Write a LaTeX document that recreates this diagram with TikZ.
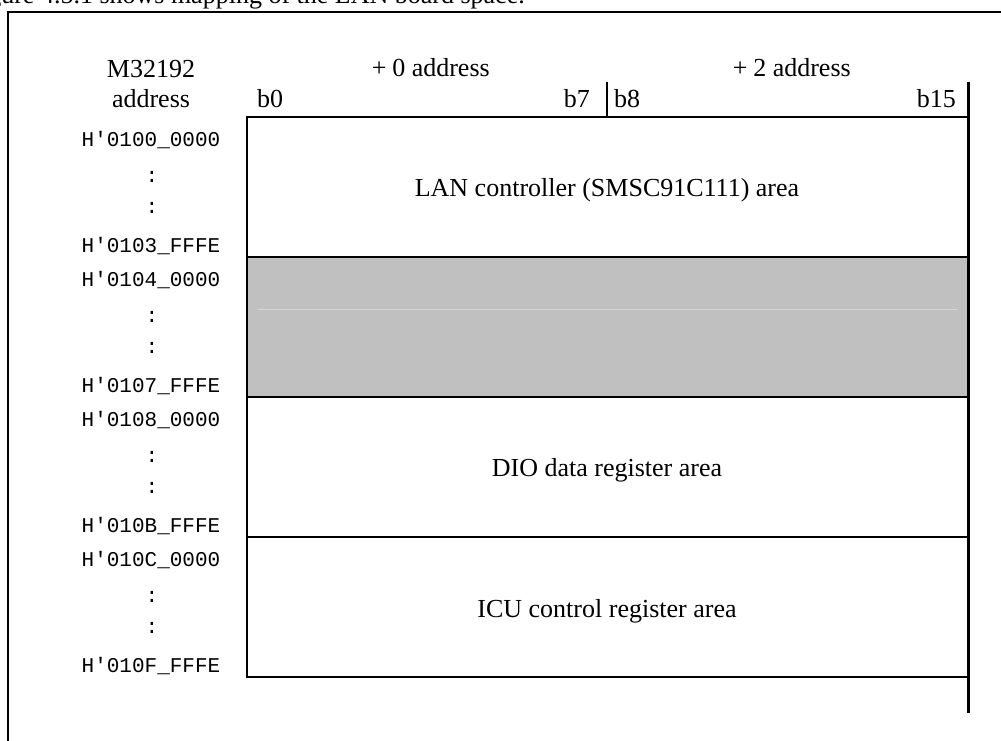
\documentclass[tikz,border=0pt]{standalone}
\usepackage{fontspec}
\setmainfont{Liberation Serif}
\setmonofont{Liberation Mono}
\usetikzlibrary{positioning}
\definecolor{areagray}{RGB}{192,192,192}
\definecolor{seamgray}{RGB}{214,214,214}
\newcommand{\wideplus}{\makebox[1em][c]{+}}
\tikzset{
  % frame and map lines
  frameline/.style = {line width=2pt, draw=black},
  mapline/.style   = {line width=2pt, draw=black},
  edgeline/.style  = {line width=3pt, draw=black},
  bitline/.style   = {line width=1.6pt, draw=black},
  % labels
  hdr/.style       = {font=\fontsize{26}{28}\selectfont, inner sep=0pt, anchor=base},
  arealab/.style   = {font=\fontsize{26}{28}\selectfont, inner sep=0pt, anchor=base},
  addr/.style      = {font=\ttfamily\fontsize{21}{22}\selectfont, inner sep=0pt, anchor=base},
}
\begin{document}
\begin{tikzpicture}[x=1pt, y=-1pt]
  \useasboundingbox (0,0) rectangle (1001,740);
  \clip (0,0) rectangle (1001,740);
  % caption line, cut off at the top
  \node[hdr, anchor=base east] (cap) at (525,3) {Figure 4.5.1 shows mapping of the LAN board space.};
  % outer frame
  \draw[frameline] (8,760) -- (8,12) -- (1020,12);
  % header
  \node[hdr] (cpu) at (151,77) {M32192};
  \node[hdr] (cpuaddr) at (151,107) {address};
  \node[hdr] (plus0) at (428,76) {\wideplus0 address};
  \node[hdr] (plus2) at (789,76) {\wideplus2 address};
  \node[hdr, anchor=base west] (b0) at (257,107) {b0};
  \node[hdr, anchor=base east] (b7) at (590,107) {b7};
  \node[hdr, anchor=base west] (b8) at (614,107) {b8};
  \node[hdr, anchor=base east] (b15) at (956,107) {b15};
  \draw[bitline] (607,82) -- (607,117);
  % map rows
  \fill[areagray] (247,257) rectangle (968,397);
  \draw[seamgray, line width=1pt] (258,309) -- (957,309);
  \draw[mapline] (968,117) -- (247,117) -- (247,677) -- (968,677);
  \draw[mapline] (247,257) -- (968,257);
  \draw[mapline] (247,397) -- (968,397);
  \draw[mapline] (247,537) -- (968,537);
  \draw[edgeline] (968,82) -- (968,713);
  \node[arealab] (lan) at (607,196) {LAN controller (SMSC91C111) area};
  \node[arealab] (dio) at (607,476) {DIO data register area};
  \node[arealab] (icu) at (607,617) {ICU control register area};
  % address column
  \foreach \top/\first/\last [count=\i] in
      {117/0100\_0000/0103\_FFFE, 257/0104\_0000/0107\_FFFE,
       397/0108\_0000/010B\_FFFE, 537/010C\_0000/010F\_FFFE} {
    \node[addr] (lo\i) at (151,\top+29) {H'\first};
    \node[addr] (da\i) at (152,\top+65) {:};
    \node[addr] (db\i) at (152,\top+96) {:};
    \node[addr] (hi\i) at (151,\top+135) {H'\last};
  }
\end{tikzpicture}
\end{document}
